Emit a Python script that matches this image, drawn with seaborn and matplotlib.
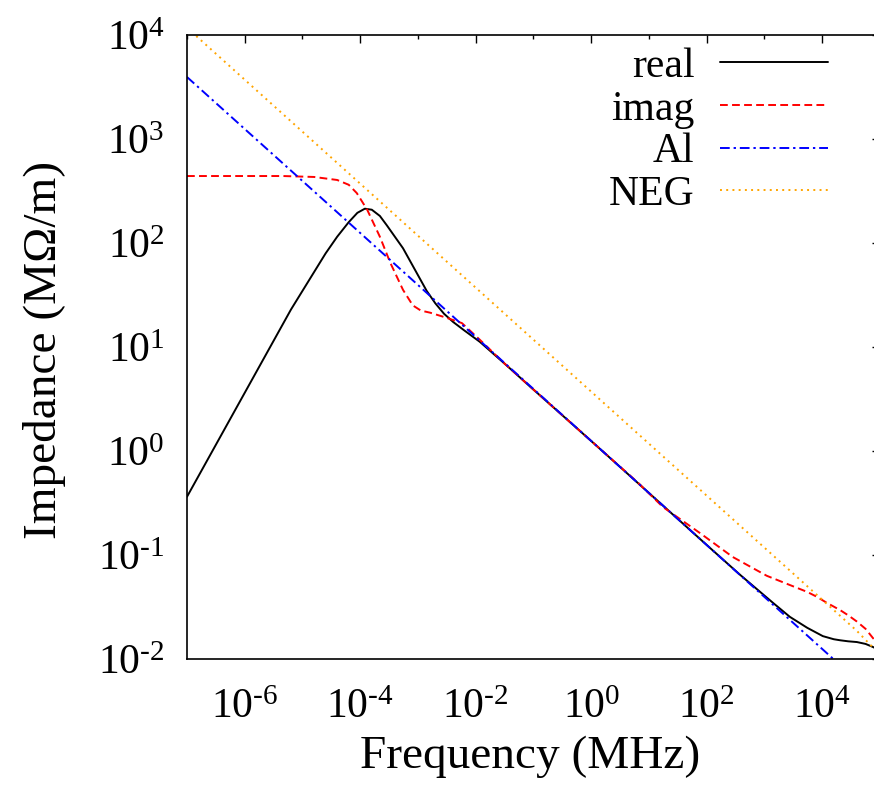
# impedance vs frequency, log-log plot

import numpy as np
import pandas as pd
import seaborn as sns
from matplotlib import pyplot as plt
from matplotlib import ticker

# values, stored as powers of ten
# frequency in MHz, impedance in MOhm/m
real_logf = [-7.0, -6.0, -5.5, -5.2, -5.0, -4.8, -4.6, -4.4, -4.2, -4.05,
             -3.92, -3.8, -3.66, -3.54, -3.4, -3.26, -3.0, -2.85, -2.7, -2.55,
             -2.39, -2.2, -1.93, -1.5, -1.06, 0.0, 1.0, 2.0, 2.576, 3.147,
             3.44, 3.74, 4.01, 4.2, 4.31, 4.45, 4.6, 4.75, 4.88, 5.0]
real_logz = [-0.44, 0.56, 1.06, 1.36, 1.54, 1.72, 1.90, 2.06, 2.20, 2.29,
             2.33, 2.32, 2.26, 2.17, 2.06, 1.95, 1.69, 1.54, 1.42, 1.32,
             1.24, 1.16, 1.05, 0.84, 0.62, 0.096, -0.404, -0.904, -1.19,
             -1.46, -1.595, -1.70, -1.78, -1.81, -1.82, -1.83, -1.837, -1.855,
             -1.885, -1.92]

imag_logf = [-7.0, -6.0, -5.34, -4.8, -4.4, -4.2, -4.06, -3.88, -3.66, -3.48,
             -3.26, -3.09, -2.95, -2.79, -2.5, -2.24, -1.93, -1.5, -1.06, 0.0,
             0.8, 1.24, 1.88, 2.45, 3.04, 3.4, 3.74, 3.9, 4.08, 4.31, 4.45,
             4.6, 4.75, 4.88, 5.0]
imag_logz = [2.644, 2.644, 2.644, 2.635, 2.606, 2.56, 2.48, 2.32, 2.06, 1.81,
             1.55, 1.40, 1.35, 1.33, 1.28, 1.23, 1.07, 0.84, 0.62, 0.096,
             -0.30, -0.538, -0.788, -1.019, -1.20, -1.28, -1.355, -1.40,
             -1.46, -1.53, -1.58, -1.64, -1.71, -1.80, -1.88]

al_logf = [-7.0, 5.0]
al_logz = [3.596, -2.404]

neg_logf = [-7.0, 4.6, 5.0]
neg_logz = [4.07, -1.73, -1.96]

x_ticks = [1e-6, 1e-4, 1e-2, 1e0, 1e2, 1e4]
x_tick_labels = [r'$10^{\text{-}6}$', r'$10^{\text{-}4}$', r'$10^{\text{-}2}$',
                 r'$10^{0}$', r'$10^{2}$', r'$10^{4}$']
x_minor = [1e-7, 1e-5, 1e-3, 1e-1, 1e1, 1e3, 1e5]
y_ticks = [1e-2, 1e-1, 1e0, 1e1, 1e2, 1e3, 1e4]
y_tick_labels = [r'$10^{\text{-}2}$', r'$10^{\text{-}1}$', r'$10^{0}$',
                 r'$10^{1}$', r'$10^{2}$', r'$10^{3}$', r'$10^{4}$']


def to_frame(logf, logz):
    return pd.DataFrame({'f': 10 ** np.array(logf), 'z': 10 ** np.array(logz)})


sns.set_theme(style="white")
plt.rcParams['font.family'] = ['Liberation Serif', 'DejaVu Serif']
plt.rcParams['mathtext.fontset'] = 'custom'
plt.rcParams['mathtext.rm'] = 'Liberation Serif'
plt.rcParams['mathtext.it'] = 'Liberation Serif:italic'
plt.rcParams['mathtext.bf'] = 'Liberation Serif:bold'
plt.rcParams['text.color'] = 'black'
plt.rcParams['axes.labelcolor'] = 'black'
plt.rcParams['xtick.color'] = 'black'
plt.rcParams['ytick.color'] = 'black'

fig = plt.figure(figsize=(8.74, 7.91), dpi=100)
ax = fig.add_axes([187 / 874, 1 - 659 / 791, 693 / 874, 624 / 791])
ax.set_xscale('log')
ax.set_yscale('log')

lw = 1.4
sns.lineplot(data=to_frame(real_logf, real_logz), x='f', y='z', ax=ax,
             color='black', lw=lw, label='real', sort=False, estimator=None)
sns.lineplot(data=to_frame(imag_logf, imag_logz), x='f', y='z', ax=ax,
             color='#ff0000', lw=lw, ls=(0, (4, 2.2)), label='imag',
             sort=False, estimator=None)
sns.lineplot(data=to_frame(al_logf, al_logz), x='f', y='z', ax=ax,
             color='#0000ff', lw=lw, ls=(0, (5, 2, 1.2, 2)), label='Al',
             sort=False, estimator=None)
sns.lineplot(data=to_frame(neg_logf, neg_logz), x='f', y='z', ax=ax,
             color='#ffa500', lw=lw, ls=(0, (1, 2.2)), label='NEG',
             sort=False, estimator=None)

ax.set_xlim(1e-7, 1e5)
ax.set_ylim(1e-2, 1e4)

ax.xaxis.set_major_locator(ticker.FixedLocator(x_ticks))
ax.xaxis.set_major_formatter(ticker.FixedFormatter(x_tick_labels))
ax.xaxis.set_minor_locator(ticker.FixedLocator(x_minor))
ax.xaxis.set_minor_formatter(ticker.NullFormatter())
ax.yaxis.set_major_locator(ticker.FixedLocator(y_ticks))
ax.yaxis.set_major_formatter(ticker.FixedFormatter(y_tick_labels))
ax.yaxis.set_minor_locator(ticker.LogLocator(base=10, subs=[2, 5, 8], numticks=30))
ax.yaxis.set_minor_formatter(ticker.NullFormatter())

for side in ['left', 'right', 'top', 'bottom']:
    ax.spines[side].set_linewidth(1.2)
    ax.spines[side].set_color('black')

ax.tick_params(which='both', direction='in', top=True, right=True,
               color='black', width=1.0)
ax.tick_params(which='major', length=6)
ax.tick_params(which='minor', length=3)
ax.tick_params(axis='x', which='major', labelsize=30, pad=21)
ax.tick_params(axis='y', which='major', labelsize=30, pad=16)

ax.set_xlabel('Frequency (MHz)', fontsize=34)
ax.set_ylabel('Impedance (M\u03a9/m)', fontsize=34)
ax.xaxis.set_label_coords(0.495, -0.123)
ax.yaxis.set_label_coords(-0.175, 0.495)

ax.legend(loc='upper right', bbox_to_anchor=(0.925, 0.98), frameon=False,
          markerfirst=False, fontsize=30, handlelength=2.6, handletextpad=0.6,
          labelspacing=0.1, borderpad=0, borderaxespad=0)

fig.savefig('out.png', dpi=100, facecolor='white')
